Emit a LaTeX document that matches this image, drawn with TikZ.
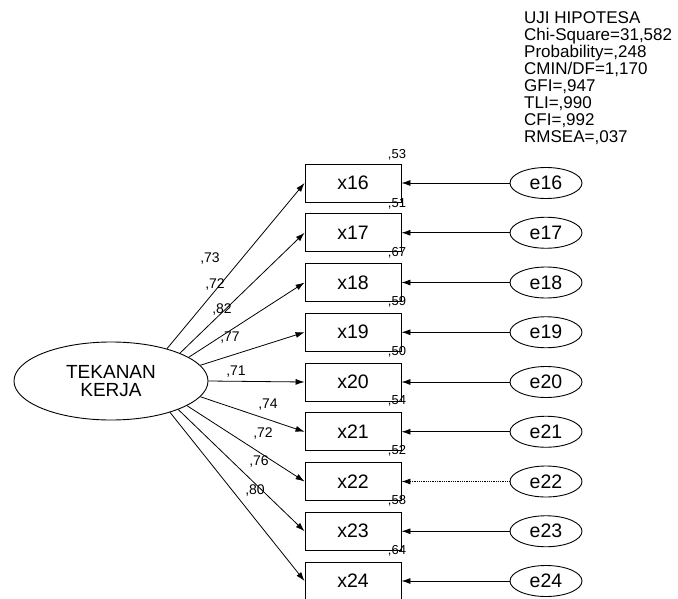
\documentclass[tikz,border=0pt]{standalone}
\usepackage{fontspec}
\setmainfont{Liberation Sans}
\usetikzlibrary{arrows.meta,shapes.geometric}
\begin{document}
\begin{tikzpicture}[x=1bp,y=-1bp,
  obs/.style={draw,line width=0.9bp,minimum width=96bp,minimum height=38bp,inner sep=0pt,font=\fontsize{19.5bp}{20bp}\selectfont},
  err/.style={draw,ellipse,line width=0.9bp,minimum width=72bp,minimum height=31bp,inner sep=0pt,font=\fontsize{19.5bp}{20bp}\selectfont},
  lat/.style={draw,ellipse,line width=0.9bp,minimum width=194bp,minimum height=78bp,inner sep=0pt,align=center,font=\fontsize{19bp}{18bp}\selectfont},
  pth/.style={line width=0.8bp,-{Latex[length=9bp,width=6bp]}},
  lbl/.style={inner sep=0pt,font=\fontsize{14bp}{14bp}\selectfont},
  rsq/.style={inner sep=0pt,font=\fontsize{13bp}{13bp}\selectfont},
  stat/.style={inner sep=0pt,anchor=base west,font=\fontsize{17bp}{17bp}\selectfont}]
\useasboundingbox (0,0) rectangle (678,599);

% statistics block
\node[stat] (s1) at (524,24) {UJI HIPOTESA};
\node[stat] (s2) at (524,41) {Chi-Square=31,582};
\node[stat] (s3) at (524,58) {Probability=,248};
\node[stat] (s4) at (524,75) {CMIN/DF=1,170};
\node[stat] (s5) at (524,92) {GFI=,947};
\node[stat] (s6) at (524,109) {TLI=,990};
\node[stat] (s7) at (524,126) {CFI=,992};
\node[stat] (s8) at (524,143) {RMSEA=,037};

% latent variable
\node[lat] (F) at (111,381) {TEKANAN\\KERJA};

% observed variables and errors
\foreach \i [count=\k from 0] in {16,...,24}{
  \pgfmathsetmacro\yy{183+49.75*\k}
  \node[obs] (x\i) at (353,\yy) {x\i};
  \node[err] (e\i) at (546,\yy) {e\i};
}
\foreach \i in {16,17,18,19,20,21,23,24}{
  \draw[pth] (e\i) -- (x\i);
}
\draw[pth,densely dotted] (e22) -- (x22);

% loadings
\draw[pth] (F.30)  -- (x16.west);
\draw[pth] (F.22)  -- (x17.west);
\draw[pth] (F.17)  -- (x18.west);
\draw[pth] (F.10)  -- (x19.west);
\draw[pth] (F.0)   -- (x20.west);
\draw[pth] (F.-10) -- (x21.west);
\draw[pth] (F.-18) -- (x22.west);
\draw[pth] (F.-23) -- (x23.west);
\draw[pth] (F.-28) -- (x24.west);

\node[lbl] (l16) at (210,259) {,73};
\node[lbl] (l17) at (215,285) {,72};
\node[lbl] (l18) at (222,310) {,82};
\node[lbl] (l19) at (230,338) {,77};
\node[lbl] (l20) at (236,372) {,71};
\node[lbl] (l21) at (268,405) {,74};
\node[lbl] (l22) at (263,434) {,72};
\node[lbl] (l23) at (259,462) {,76};
\node[lbl] (l24) at (255,491) {,80};

% squared multiple correlations
\node[rsq] (r16) at (397,155) {,53};
\node[rsq] (r17) at (397,204) {,51};
\node[rsq] (r18) at (397,253) {,67};
\node[rsq] (r19) at (397,302) {,59};
\node[rsq] (r20) at (397,352) {,50};
\node[rsq] (r21) at (397,401) {,54};
\node[rsq] (r22) at (397,451) {,52};
\node[rsq] (r23) at (397,501) {,58};
\node[rsq] (r24) at (397,551) {,64};
\end{tikzpicture}
\end{document}
